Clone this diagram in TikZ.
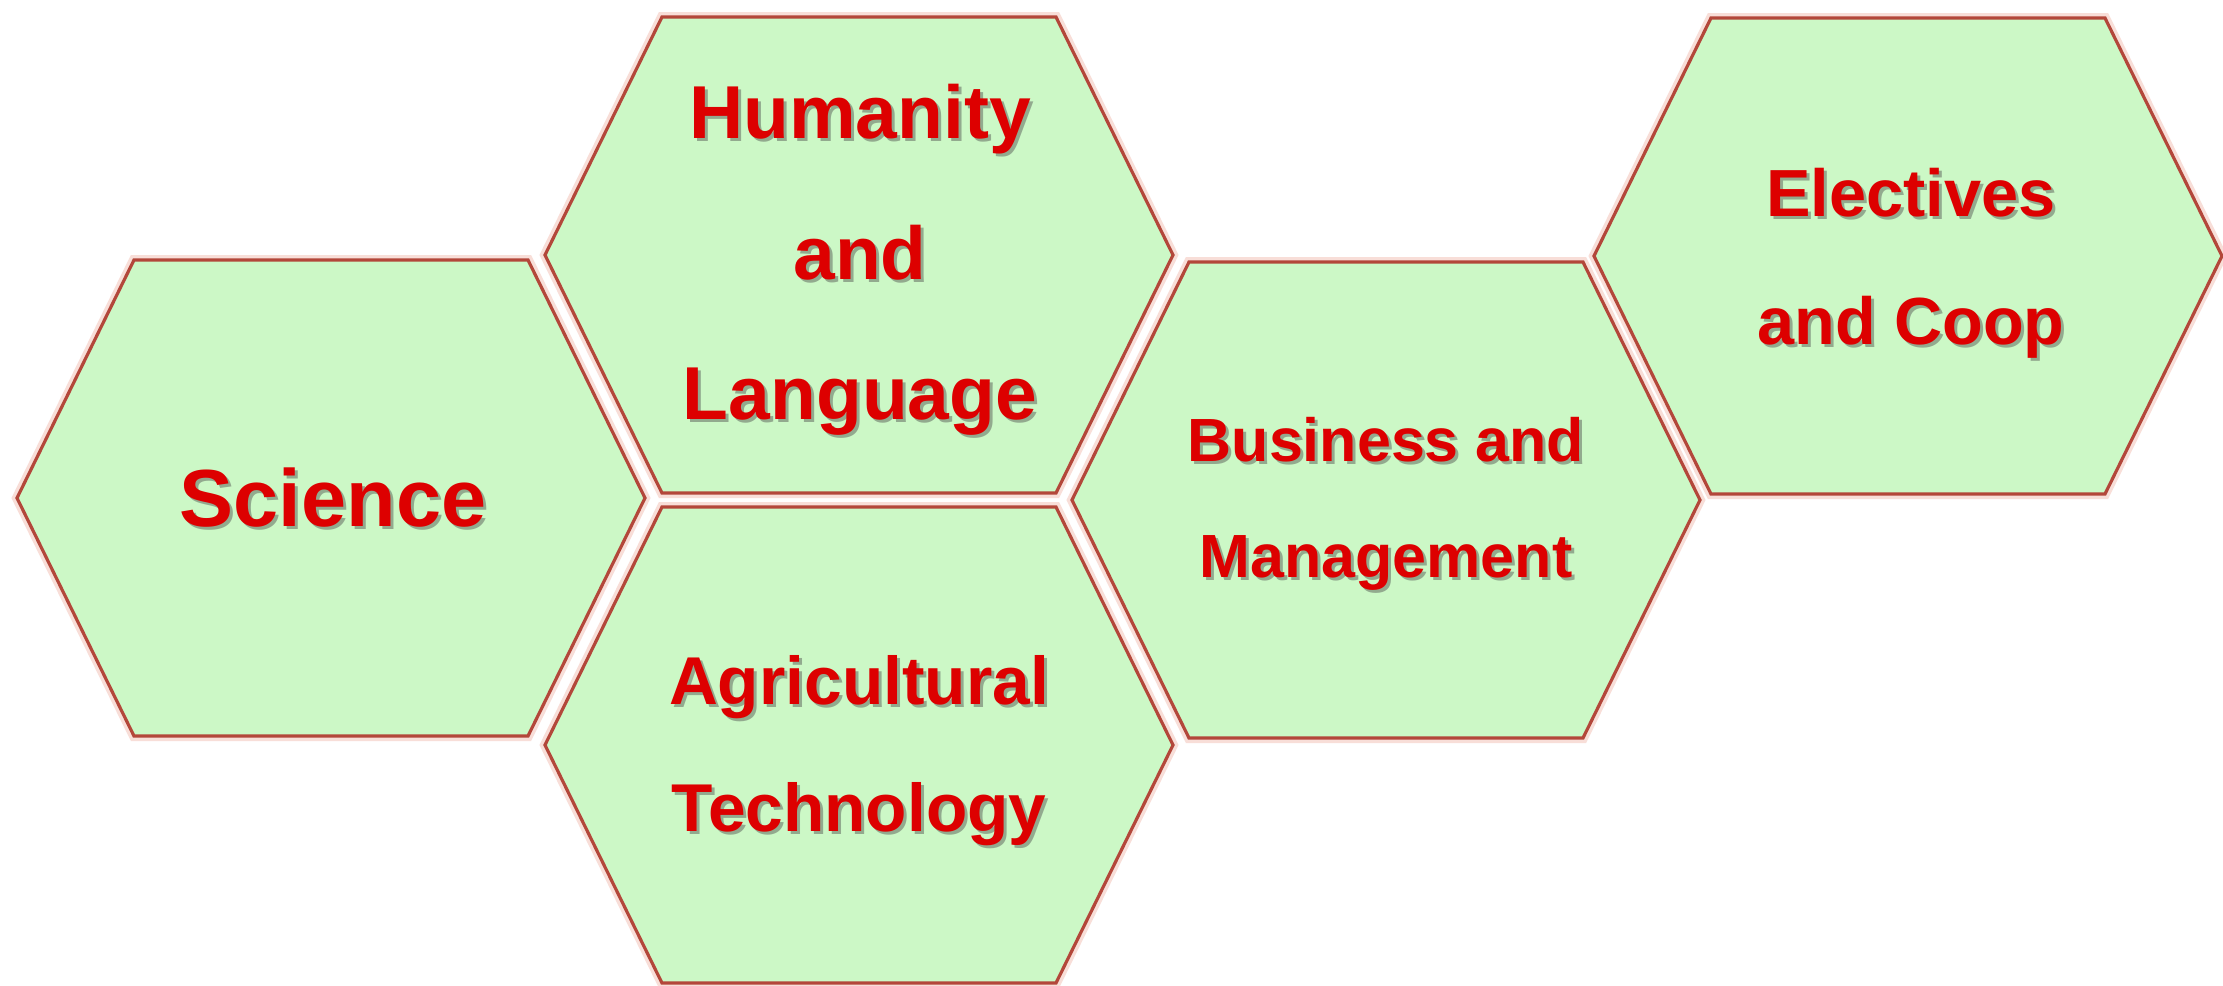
\documentclass[tikz,border=0pt]{standalone}
\usepackage{fontspec}
\setmainfont{Liberation Sans}
\definecolor{hexfill}{HTML}{CCF8C6}
\definecolor{hexline}{HTML}{B3473A}
\definecolor{halo}{HTML}{F8DED8}
\definecolor{txtred}{HTML}{DD0000}
\begin{document}
\begin{tikzpicture}[x=0.3pt,y=-0.3pt,
  hexhalo/.pic={\draw[halo,line width=3pt,line join=miter]
     (-314,0) -- (-197,-238) -- (197,-238) -- (314,0) -- (197,238) -- (-197,238) -- cycle;},
  hexcell/.pic={\draw[hexline,fill=hexfill,line width=0.95pt,line join=miter]
     (-314,0) -- (-197,-238) -- (197,-238) -- (314,0) -- (197,238) -- (-197,238) -- cycle;},
  lbl/.style={anchor=base,inner sep=0pt,text=txtred,font=\bfseries\fontsize{#1}{#1}\selectfont},
  lblsh/.style={anchor=base,inner sep=0pt,text=black!70,opacity=0.45,font=\bfseries\fontsize{#1}{#1}\selectfont}
]
\useasboundingbox[fill=white] (0,0) rectangle (2223,986);
% halos
\foreach \cx/\cy in {331/498, 859/255, 859/745, 1386/500, 1908/256}
  \pic at (\cx,\cy) {hexhalo};
% cells
\pic (sci) at (331,498) {hexcell};
\pic (hum) at (859,255) {hexcell};
\pic (agr) at (859,745) {hexcell};
\pic (bus) at (1386,500) {hexcell};
\pic (ele) at (1908,256) {hexcell};
% text shadows
\foreach \x/\y/\s/\t in {333/526/24.3/Science,
    860/138.5/22.5/Humanity, 860/279/22.5/and, 860/419/22.5/Language,
    859/704/20.3/Agricultural, 859/831/20.3/Technology,
    1386/461/18.3/Business and, 1386/577/18.3/Management,
    1911/216.5/20/Electives, 1911/344/20/and Coop}
  \node[lblsh=\s] at (\x+3,\y+3) {\t};
% texts
\node[lbl=24.3] (tsci) at (333,526) {Science};
\node[lbl=22.5] (thum1) at (860,138.5) {Humanity};
\node[lbl=22.5] (thum2) at (860,279) {and};
\node[lbl=22.5] (thum3) at (860,419) {Language};
\node[lbl=20.3] (tagr1) at (859,704) {Agricultural};
\node[lbl=20.3] (tagr2) at (859,831) {Technology};
\node[lbl=18.3] (tbus1) at (1386,461) {Business and};
\node[lbl=18.3] (tbus2) at (1386,577) {Management};
\node[lbl=20] (tele1) at (1911,216.5) {Electives};
\node[lbl=20] (tele2) at (1911,344) {and Coop};
\end{tikzpicture}
\end{document}
